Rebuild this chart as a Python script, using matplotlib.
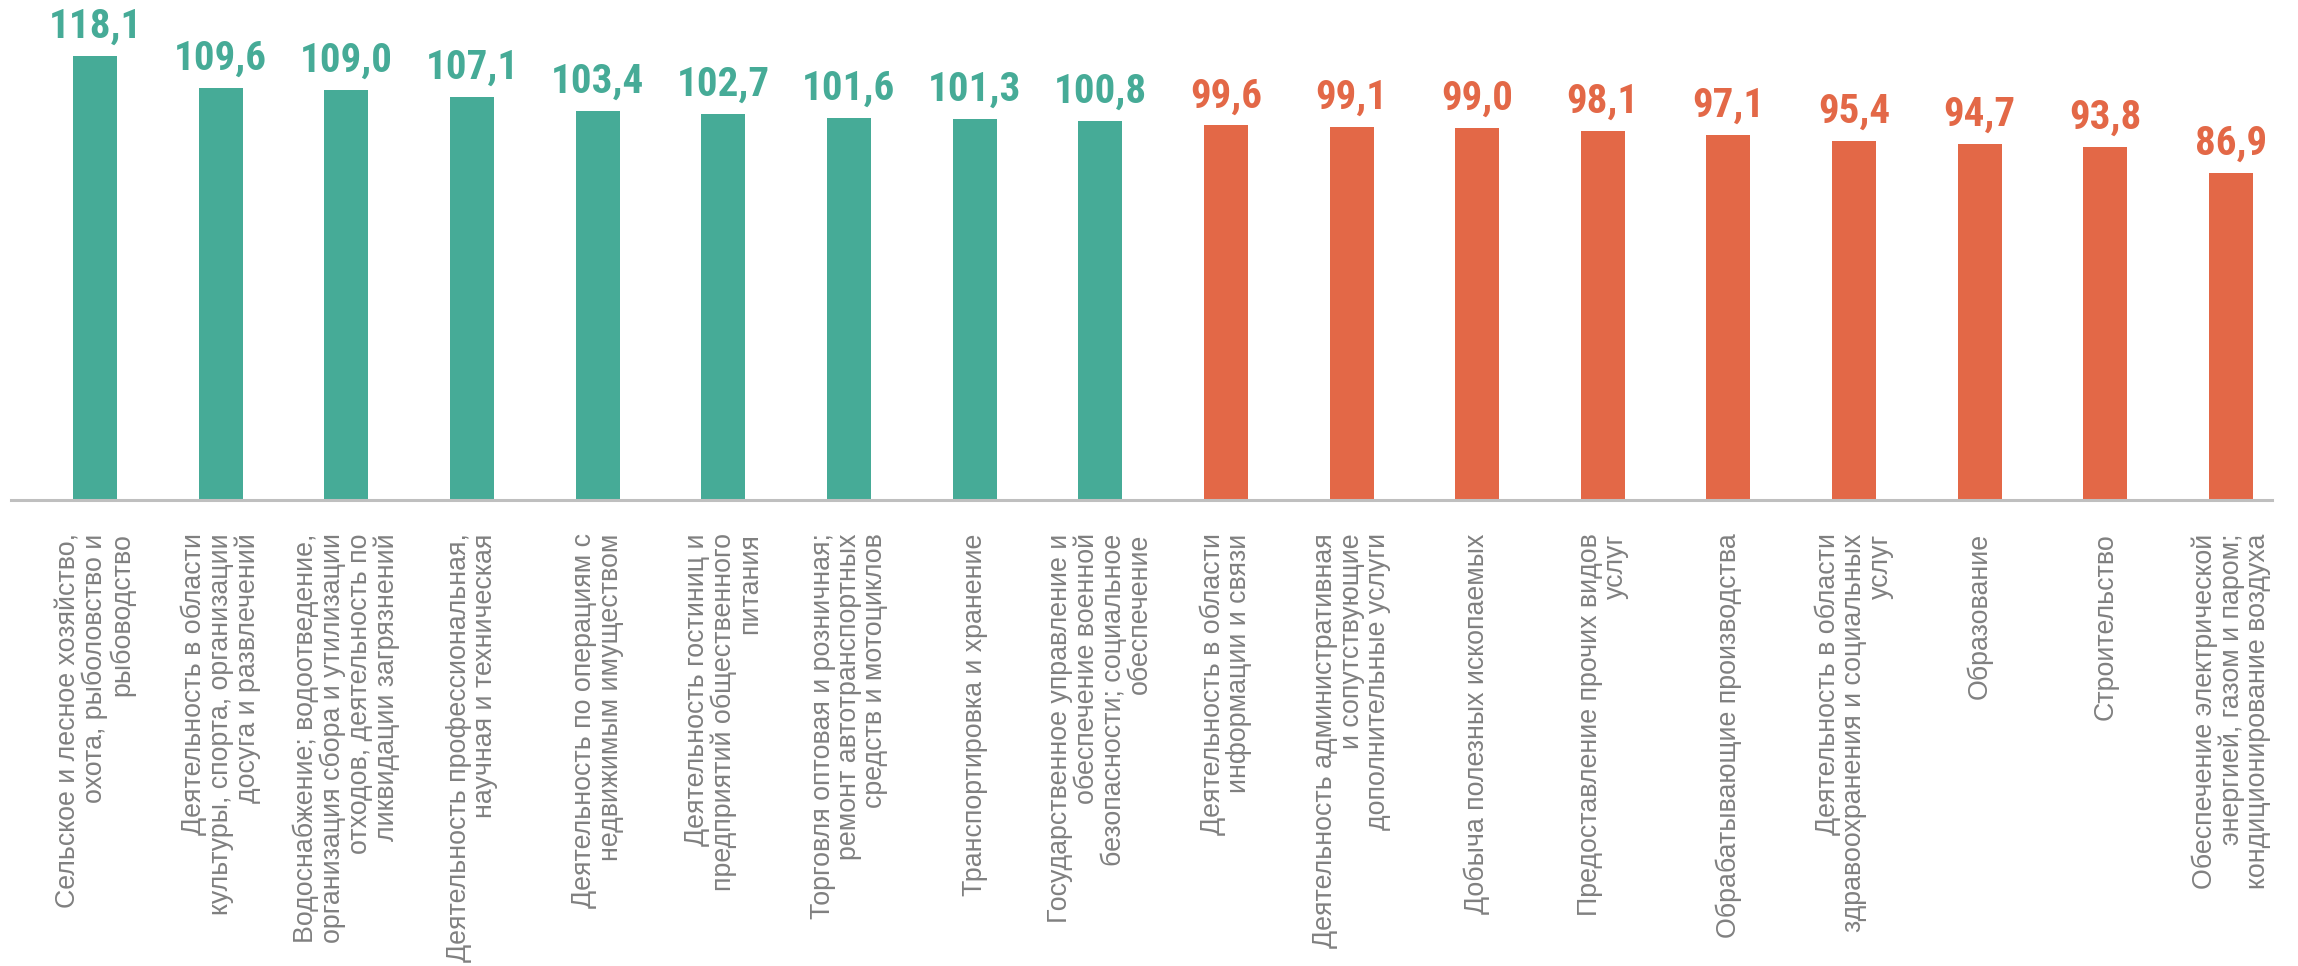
import matplotlib
matplotlib.use("Agg")
import matplotlib.pyplot as plt
from matplotlib import font_manager

categories = [
    "Сельское и лесное хозяйство,\nохота, рыболовство и\nрыбоводство",
    "Деятельность в области\nкультуры, спорта, организации\nдосуга и развлечений",
    "Водоснабжение; водоотведение,\nорганизация сбора и утилизации\nотходов, деятельность по\nликвидации загрязнений",
    "Деятельность профессиональная,\nнаучная и техническая",
    "Деятельность по операциям с\nнедвижимым имуществом",
    "Деятельность гостиниц и\nпредприятий общественного\nпитания",
    "Торговля оптовая и розничная;\nремонт автотранспортных\nсредств и мотоциклов",
    "Транспортировка и хранение",
    "Государственное управление и\nобеспечение военной\nбезопасности; социальное\nобеспечение",
    "Деятельность в области\nинформации и связи",
    "Деятельность административная\nи сопутствующие\nдополнительные услуги",
    "Добыча полезных ископаемых",
    "Предоставление прочих видов\nуслуг",
    "Обрабатывающие производства",
    "Деятельность в области\nздравоохранения и социальных\nуслуг",
    "Образование",
    "Строительство",
    "Обеспечение электрической\nэнергией, газом и паром;\nкондиционирование воздуха",
]
values = [118.1, 109.6, 109.0, 107.1, 103.4, 102.7, 101.6, 101.3, 100.8,
          99.6, 99.1, 99.0, 98.1, 97.1, 95.4, 94.7, 93.8, 86.9]
value_labels = ["118,1", "109,6", "109,0", "107,1", "103,4", "102,7", "101,6", "101,3", "100,8",
                "99,6", "99,1", "99,0", "98,1", "97,1", "95,4", "94,7", "93,8", "86,9"]

TEAL = "#46AB97"
ORANGE = "#E36847"
GRAY = "#808080"

names = {f.name for f in font_manager.fontManager.ttflist}
value_font = "Liberation Sans"
for cand in ["Roboto Condensed", "Liberation Sans Narrow", "Barlow Semi Condensed", "Encode Sans Semi Condensed"]:
    if cand in names:
        value_font = cand
        break

W, H = 2298, 966
fig = plt.figure(figsize=(W / 100, H / 100), dpi=100)
ax_left, ax_right, ax_bottom = 11, 2272, 500
ax = fig.add_axes([ax_left / W, 1 - ax_bottom / H, (ax_right - ax_left) / W, ax_bottom / H])

colors = [TEAL if v >= 100 else ORANGE for v in values]
x = list(range(len(values)))
ax.bar(x, values, width=0.35, color=colors, zorder=2)

ax.set_xlim(-0.669, 17.326)
ax.set_ylim(0, 132.9)

for xi, v, lab, c in zip(x, values, value_labels, colors):
    ax.annotate(lab, (xi, v), xytext=(0, 13), textcoords="offset points",
                ha="center", va="baseline", color=c, fontsize=29.5, fontweight="bold",
                family=[value_font, "DejaVu Sans"], annotation_clip=False)

for s in ["top", "left", "right"]:
    ax.spines[s].set_visible(False)
ax.spines["bottom"].set_color("#BFBFBF")
ax.spines["bottom"].set_linewidth(2.2)
ax.set_yticks([])
ax.set_xticks(x)
ax.set_xticklabels(categories, rotation=90, ha="center", va="top",
                   multialignment="right", color=GRAY, fontsize=19.3,
                   family=["Liberation Sans", "DejaVu Sans"], linespacing=1.02)
ax.tick_params(axis="x", length=0, pad=24)
ax.patch.set_alpha(0)

fig.savefig("out.png", dpi=100, facecolor="white")
